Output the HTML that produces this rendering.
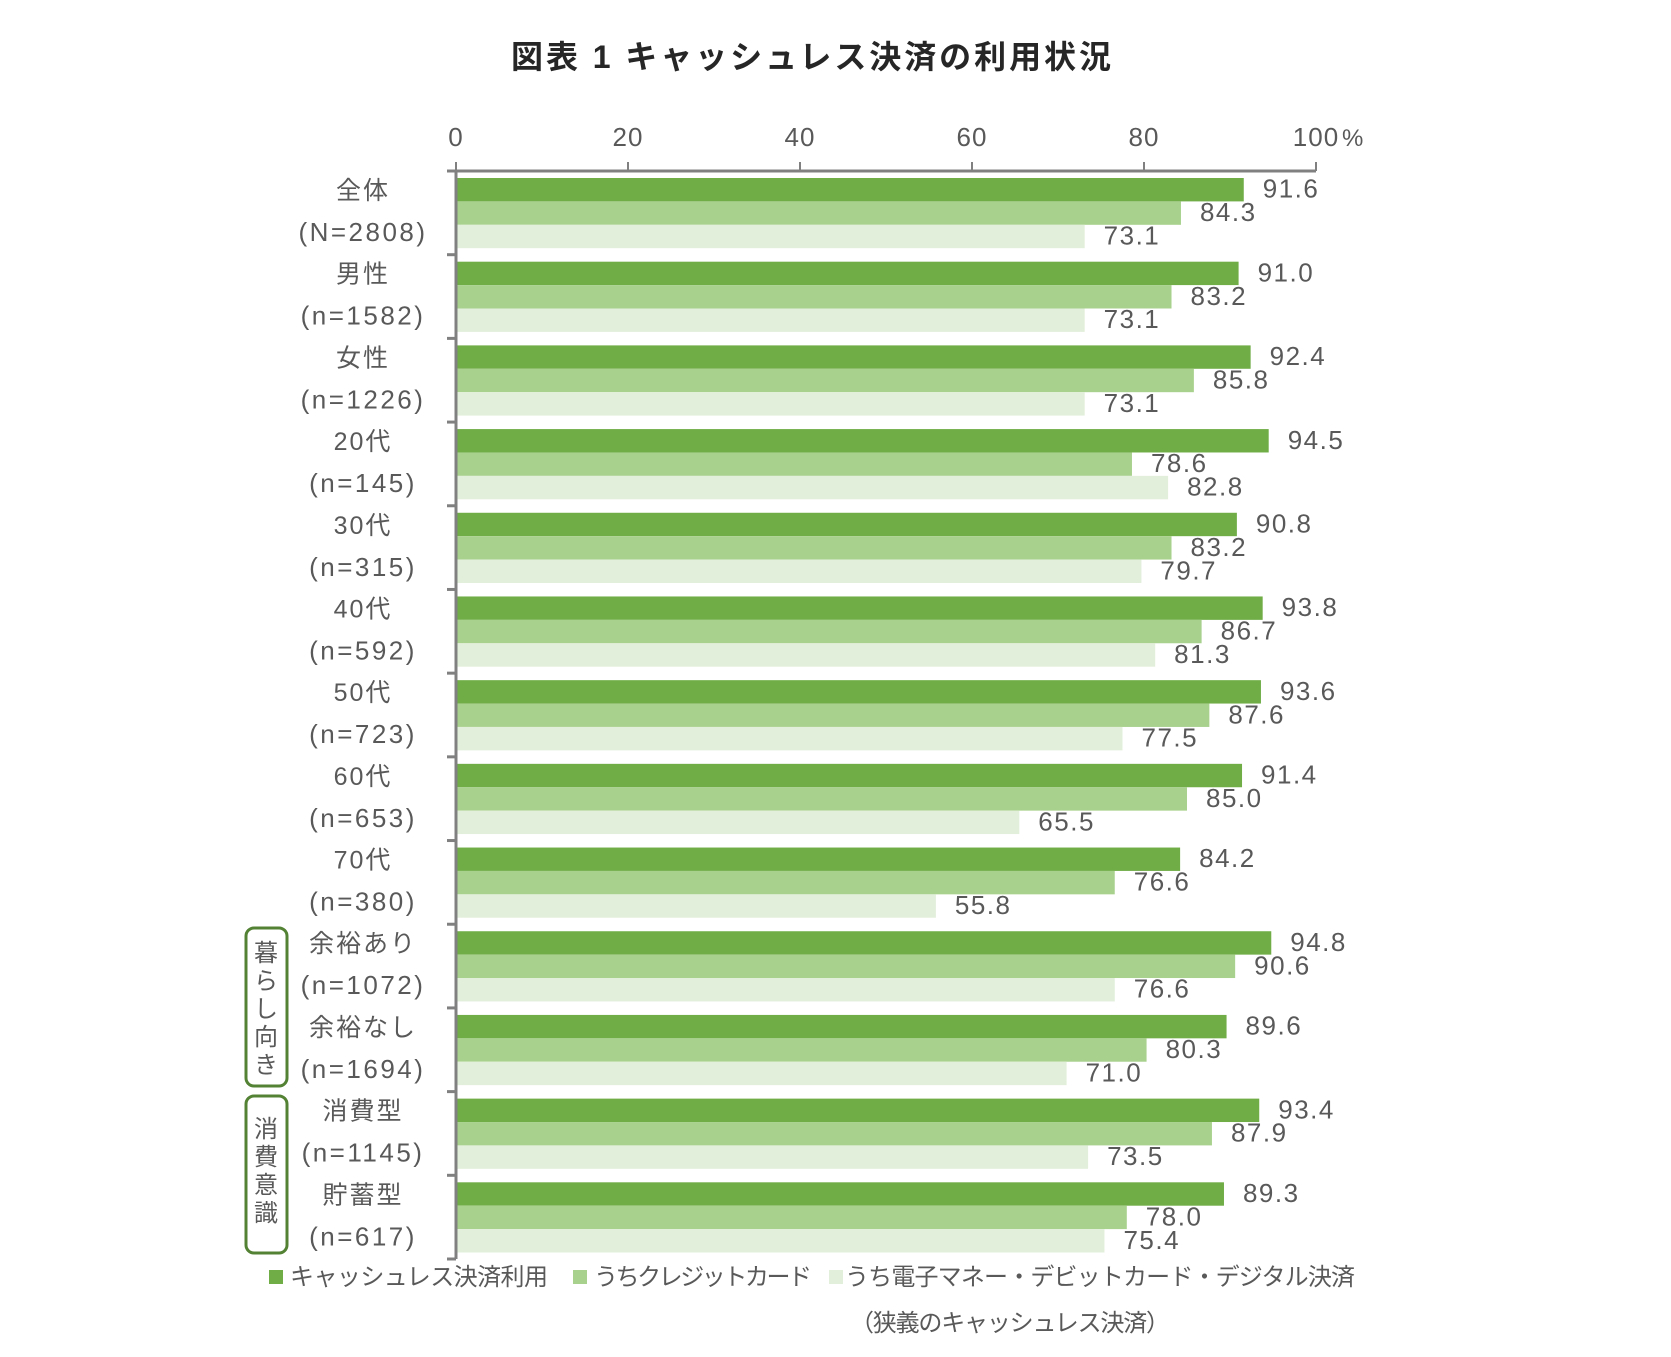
<!DOCTYPE html>
<html><head><meta charset="utf-8">
<style>
body{margin:0;background:#fff;}
svg text{font-family:"Liberation Sans","Noto Sans CJK JP",sans-serif;fill:#595959;}
</style></head>
<body>
<svg id="chart" width="1671" height="1352" viewBox="0 0 1671 1352" xmlns="http://www.w3.org/2000/svg">
<text x="511" y="68" font-size="32" font-weight="bold" textLength="600" style="fill:#262626">図表 1 キャッシュレス決済の利用状況</text>
<g id="bars"></g>
<g id="axes"></g>
<g id="labels"></g>
<rect x="246" y="928" width="41" height="158" rx="8" fill="none" stroke="#548235" stroke-width="3"/>
<text font-size="24" text-anchor="middle">
<tspan x="266" y="961">暮</tspan><tspan x="266" y="989">ら</tspan><tspan x="266" y="1017">し</tspan><tspan x="266" y="1045">向</tspan><tspan x="266" y="1073">き</tspan></text>
<rect x="246" y="1096" width="41" height="157" rx="8" fill="none" stroke="#548235" stroke-width="3"/>
<text font-size="24" text-anchor="middle">
<tspan x="266" y="1137">消</tspan><tspan x="266" y="1165">費</tspan><tspan x="266" y="1193">意</tspan><tspan x="266" y="1221">識</tspan></text>
<g>
<rect x="269" y="1270" width="14" height="14" fill="#70ad47"/>
<text x="290" y="1285" font-size="24" textLength="258">キャッシュレス決済利用</text>
<rect x="573" y="1270" width="14" height="14" fill="#a9d18e"/>
<text x="594" y="1285" font-size="24" textLength="218">うちクレジットカード</text>
<rect x="829" y="1270" width="14" height="14" fill="#e2efda"/>
<text x="845" y="1285" font-size="24" textLength="510">うち電子マネー・デビットカード・デジタル決済</text>
<text x="850" y="1331" font-size="24" textLength="320">（狭義のキャッシュレス決済）</text>
</g>
</svg>
<script>
const categories=["全体","男性","女性","20代","30代","40代","50代","60代","70代","余裕あり","余裕なし","消費型","貯蓄型"];
const sampleLabels=["(N=2808)","(n=1582)","(n=1226)","(n=145)","(n=315)","(n=592)","(n=723)","(n=653)","(n=380)","(n=1072)","(n=1694)","(n=1145)","(n=617)"];
const totalUse=[91.6,91.0,92.4,94.5,90.8,93.8,93.6,91.4,84.2,94.8,89.6,93.4,89.3];
const creditCard=[84.3,83.2,85.8,78.6,83.2,86.7,87.6,85.0,76.6,90.6,80.3,87.9,78.0];
const eMoney=[73.1,73.1,73.1,82.8,79.7,81.3,77.5,65.5,55.8,76.6,71.0,73.5,75.4];
const tickValues=[0,20,40,60,80,100];
const tickLabels=["0","20","40","60","80","100"];

const NS="http://www.w3.org/2000/svg";
const X0=456,X1=1316,Y0=171,Y1=1259;
const x=v=>X0+(v/100)*(X1-X0);
const gH=(Y1-Y0)/categories.length;
const y=i=>Y0+i*gH;
const barH=23.4,pad=7;
function mk(tag,attrs,parent,txt){const e=document.createElementNS(NS,tag);for(const k in attrs)e.setAttribute(k,attrs[k]);if(txt!==undefined)e.textContent=txt;parent.appendChild(e);return e;}
const bars=document.getElementById('bars'),axes=document.getElementById('axes'),labels=document.getElementById('labels');
const series=[{d:totalUse,c:"#70ad47",n:"total"},{d:creditCard,c:"#a9d18e",n:"credit"},{d:eMoney,c:"#e2efda",n:"emoney"}];
categories.forEach((cat,i)=>{
  series.forEach((s,j)=>{
    const by=y(i)+pad+j*barH;
    const r=mk('rect',{x:X0,y:by,width:x(s.d[i])-X0,height:barH,fill:s.c},bars);
    
    
    const t=mk('text',{x:x(s.d[i])+19,y:by+barH/2+8,'font-size':26,'letter-spacing':1.5},bars,s.d[i].toFixed(1));
    
    
  });
  const l1=mk('text',{x:363,y:y(i)+28,'font-size':25,'text-anchor':'middle','letter-spacing':2},labels,cat);
  
  
  const l2=mk('text',{x:363,y:y(i)+70,'font-size':26,'text-anchor':'middle','letter-spacing':2.5},labels,sampleLabels[i]);
  
  
});
const ax=mk('line',{x1:X0,y1:Y0,x2:X1,y2:Y0,stroke:'#808080','stroke-width':3},axes);


const ay=mk('line',{x1:X0,y1:Y0,x2:X0,y2:Y1,stroke:'#808080','stroke-width':3},axes);


for(let i=0;i<=categories.length;i++){
  const tk=mk('line',{x1:X0-9,y1:y(i),x2:X0,y2:y(i),stroke:'#808080','stroke-width':3},axes);
  
  
}
tickValues.forEach((v,i)=>{
  const tk=mk('line',{x1:x(v),y1:Y0-9,x2:x(v),y2:Y0,stroke:'#808080','stroke-width':2},axes);
  
  
  const t=mk('text',{x:x(v),y:146,'font-size':26,'text-anchor':'middle','letter-spacing':1},axes,tickLabels[i]);
  
  
});
const pc=mk('text',{x:x(100)+26,y:146,'font-size':24},axes,'%');


</script>
</body></html>
